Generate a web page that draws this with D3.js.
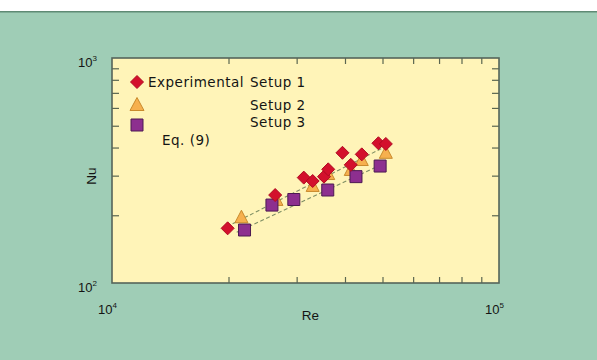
<!DOCTYPE html>
<html>
<head>
<meta charset="utf-8">
<script src="https://cdn.jsdelivr.net/npm/d3@7"></script>
<style>
  html, body { margin: 0; padding: 0; background: #fff; }
  svg { display: block; }
  text { font-family: "Liberation Sans", Arial, Helvetica, sans-serif; fill: #141414; }
</style>
</head>
<body>
<svg id="chart" width="597" height="360"></svg>
<script>
// ---- data ----
const setup1Re = [19900, 26400, 31300, 33000, 35300, 36200, 39400, 41400, 44200, 48800, 51000];
const setup1Nu = [175, 246, 294, 284, 297, 320, 379, 335, 373, 418, 415];
const setup2Re = [21600, 26600, 33000, 36200, 41400, 44200, 51000];
const setup2Nu = [196, 234, 270, 305, 318, 352, 379];
const setup3Re = [22000, 25900, 29500, 36100, 42700, 49300];
const setup3Nu = [172, 222, 235, 259, 297, 331];
const eqUpperRe = [19800, 51000];
const eqUpperNu = [178, 405];
const eqLowerRe = [21000, 50000];
const eqLowerNu = [168, 338];
const xMinorTicks = [2e4, 3e4, 4e4, 5e4, 6e4, 7e4, 8e4, 9e4];
const yMinorTicks = [200, 300, 400, 500, 600, 700, 800, 900];
const xTickLabels = [{v: 1e4, base: "10", exp: "4"}, {v: 1e5, base: "10", exp: "5"}];
const yTickLabels = [{v: 1e2, base: "10", exp: "2"}, {v: 1e3, base: "10", exp: "3"}];
const legendItems = ["Experimental", "Setup 1", "Setup 2", "Setup 3", "Eq. (9)"];

// ---- layout ----
const svg = d3.select("#chart");
const W = 597, H = 360;
const plot = {left: 112, right: 499, top: 58, bottom: 283};

svg.append("rect").attr("x", 0).attr("y", 0).attr("width", W).attr("height", H).attr("fill", "#ffffff");
svg.append("rect").attr("x", 0).attr("y", 11).attr("width", W).attr("height", H - 11).attr("fill", "#9fcdb6");
svg.append("rect").attr("x", 0).attr("y", 11).attr("width", W).attr("height", 1.5).attr("fill", "#5f8a74");

const x = d3.scaleLog().domain([1e4, 1e5]).range([plot.left, plot.right]);
const y = d3.scaleLog().domain([1e2, 1e3]).range([plot.bottom, plot.top]);

svg.append("rect")
  .attr("x", plot.left).attr("y", plot.top)
  .attr("width", plot.right - plot.left).attr("height", plot.bottom - plot.top)
  .attr("fill", "#fff4b8");

// ticks on all four sides, pointing inward
function styleAxis(g) {
  g.select(".domain").remove();
  g.selectAll(".tick line").attr("stroke", "#5b6650").attr("stroke-width", 1.2);
  g.selectAll(".tick text").remove();
}
svg.append("g").attr("transform", `translate(0,${plot.bottom})`)
  .call(d3.axisBottom(x).tickValues(xMinorTicks).tickSize(-6).tickFormat("")).call(styleAxis);
svg.append("g").attr("transform", `translate(0,${plot.top})`)
  .call(d3.axisTop(x).tickValues(xMinorTicks).tickSize(-6).tickFormat("")).call(styleAxis);
svg.append("g").attr("transform", `translate(${plot.left},0)`)
  .call(d3.axisLeft(y).tickValues(yMinorTicks).tickSize(-7).tickFormat("")).call(styleAxis);
svg.append("g").attr("transform", `translate(${plot.right},0)`)
  .call(d3.axisRight(y).tickValues(yMinorTicks).tickSize(-7).tickFormat("")).call(styleAxis);

// frame
svg.append("rect")
  .attr("x", plot.left).attr("y", plot.top)
  .attr("width", plot.right - plot.left).attr("height", plot.bottom - plot.top)
  .attr("fill", "none").attr("stroke", "#56655a").attr("stroke-width", 1.6);

// tick labels
function powLabel(sel, base, exp) {
  sel.append("tspan").text(base);
  sel.append("tspan").style("font-size", "8px").attr("dy", -6).text(exp);
}
xTickLabels.forEach(d => {
  const t = svg.append("text").attr("x", x(d.v) - 14).attr("y", plot.bottom + 31)
    .style("font-size", "13px");
  powLabel(t, d.base, d.exp);
});
yTickLabels.forEach(d => {
  const t = svg.append("text").attr("x", plot.left - 34).attr("y", y(d.v) + 9)
    .style("font-size", "13px");
  powLabel(t, d.base, d.exp);
});

// axis titles
svg.append("text").attr("x", (plot.left + plot.right) / 2 + 5).attr("y", 320)
  .attr("text-anchor", "middle").style("font-size", "13.5px").text("Re");
svg.append("text").attr("transform", `translate(96,176) rotate(-90)`)
  .attr("text-anchor", "middle").style("font-size", "13.5px").text("Nu");

// Eq. (9) dashed lines
const line = d3.line().x(d => x(d[0])).y(d => y(d[1]));
[[eqUpperRe, eqUpperNu], [eqLowerRe, eqLowerNu]].forEach(([re, nu]) => {
  svg.append("path").datum(re.map((r, i) => [r, nu[i]]))
    .attr("d", line).attr("fill", "none")
    .attr("stroke", "#7f8f64").attr("stroke-width", 1.1).attr("stroke-dasharray", "4,2.5");
});

// markers
const triPath = "M0,-7 L6.5,5.5 L-6.5,5.5 Z";
const sqPath = "M-6,-6 L6,-6 L6,6 L-6,6 Z";
const diaPath = "M0,-6.5 L6.5,0 L0,6.5 L-6.5,0 Z";

function drawMarkers(re, nu, path, fill, stroke) {
  svg.append("g").selectAll("path")
    .data(re.map((r, i) => [r, nu[i]]))
    .join("path")
    .attr("transform", d => `translate(${x(d[0])},${y(d[1])})`)
    .attr("d", path).attr("fill", fill).attr("stroke", stroke).attr("stroke-width", 1);
}
drawMarkers(setup2Re, setup2Nu, triPath, "#f6b04e", "#c98a2c");
drawMarkers(setup3Re, setup3Nu, sqPath, "#8d2f8f", "#4c1a52");
drawMarkers(setup1Re, setup1Nu, diaPath, "#d3102c", "#b00a22");

// legend
const lg = svg.append("g");
lg.append("path").attr("transform", "translate(137,82)").attr("d", diaPath)
  .attr("fill", "#d3102c").attr("stroke", "#b00a22");
lg.append("path").attr("transform", "translate(137,105)").attr("d", "M0,-7.5 L7,5.5 L-7,5.5 Z")
  .attr("fill", "#f6b04e").attr("stroke", "#c98a2c");
lg.append("path").attr("transform", "translate(137,125)").attr("d", sqPath)
  .attr("fill", "#8d2f8f").attr("stroke", "#4c1a52");
const lgFont = "'DejaVu Sans', Verdana, sans-serif";
function lgText(xp, yp, txt) {
  lg.append("text").attr("x", xp).attr("y", yp)
    .style("font-family", lgFont).style("font-size", "13.5px").style("letter-spacing", "0.5px")
    .text(txt);
}
lgText(148, 87, legendItems[0]);
lgText(250, 87, legendItems[1]);
lgText(250, 110, legendItems[2]);
lgText(250, 127, legendItems[3]);
lgText(162, 145, legendItems[4]);
</script>
</body>
</html>
